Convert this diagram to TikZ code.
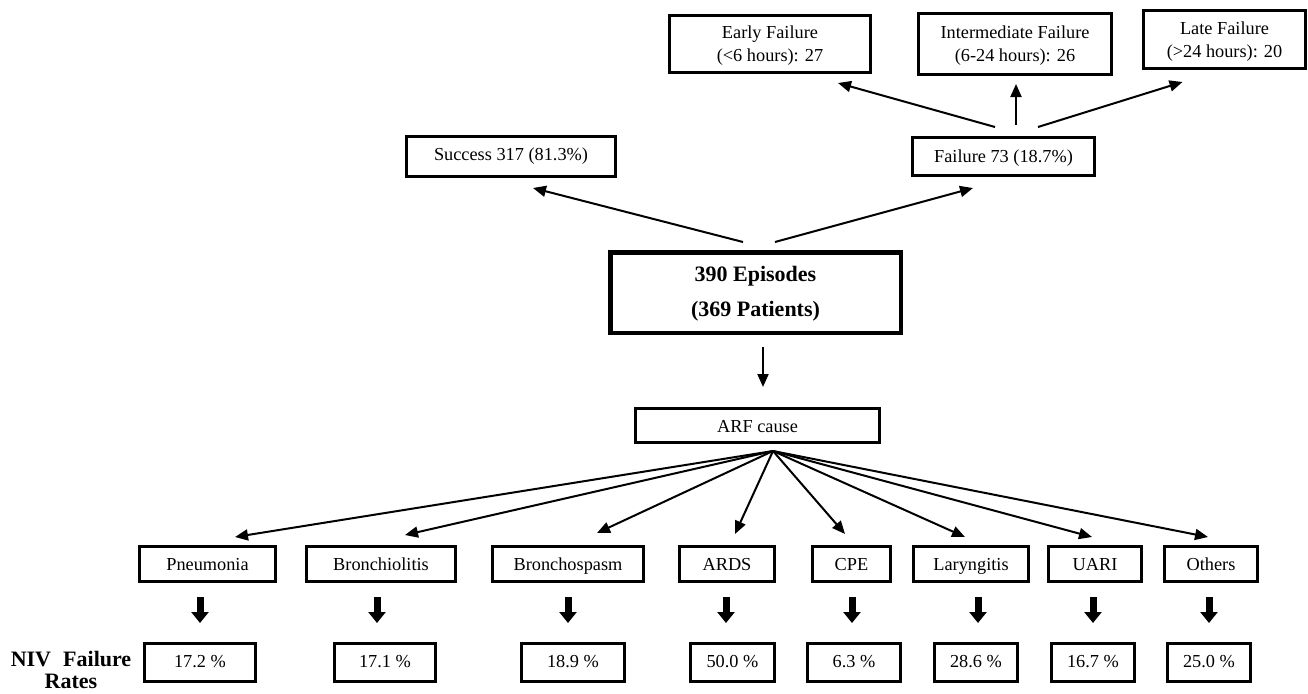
\documentclass[tikz,border=0pt]{standalone}
\usepackage{fontspec}
\setmainfont{Liberation Serif}
\usetikzlibrary{arrows.meta}
\begin{document}
\begin{tikzpicture}[x=1pt,y=-1pt,
  box/.style={draw, line width=3pt, inner sep=0pt, align=center, font=\fontsize{18.3}{23}\selectfont},
  single/.style={text height=12.5pt, text depth=0pt},
  double/.style={text height=40pt, text depth=4pt},
  bigbox/.style={draw, line width=4.5pt, inner sep=0pt, align=center, font=\fontsize{22}{35}\selectfont\bfseries, text height=53pt, text depth=5pt},
  thinarrow/.style={line width=2pt, -{Triangle[length=13pt,width=11pt]}},
  fatarrow/.style={line width=7pt, -{Triangle[length=11pt,width=17pt]}},
  lbl/.style={inner sep=0pt, align=center, font=\fontsize{22}{22}\selectfont\bfseries}
  ]
\useasboundingbox (0,0) rectangle (1308,693);

% top row
\node[box, double, minimum width=201, minimum height=57] (early) at (770,44) {Early Failure\\(<6 hours): 27};
\node[box, double, minimum width=193, minimum height=61] (inter) at (1015,44) {Intermediate Failure\\(6-24 hours): 26};
\node[box, double, minimum width=162, minimum height=58] (late) at (1224.5,39.5) {Late Failure\\(>24 hours): 20};

% second row
\node[box, single, text height=7pt, minimum width=209, minimum height=40] (suc) at (511,156.5) {Success 317 (81.3\%)};
\node[box, single, minimum width=182, minimum height=38] (fail) at (1003.5,156.5) {Failure 73 (18.7\%)};

% central
\node[bigbox, minimum width=290.5, minimum height=80.5] (ep) at (755.5,292.5) {390 Episodes\\(369 Patients)};
\node[box, single, text height=14pt, minimum width=244, minimum height=34] (arf) at (757.5,425.5) {ARF cause};

% causes
\node[box, single, minimum width=136, minimum height=35] (pn) at (207.5,564) {Pneumonia};
\node[box, single, minimum width=149, minimum height=35] (br) at (381,564) {Bronchiolitis};
\node[box, single, minimum width=151, minimum height=35] (bs) at (568,564) {Bronchospasm};
\node[box, single, minimum width=95, minimum height=35] (ards) at (727,564) {ARDS};
\node[box, single, minimum width=78, minimum height=35] (cpe) at (851.5,564) {CPE};
\node[box, single, minimum width=115, minimum height=35] (lar) at (971,564) {Laryngitis};
\node[box, single, minimum width=93, minimum height=35] (uari) at (1095,564) {UARI};
\node[box, single, minimum width=93, minimum height=35] (oth) at (1211,564) {Others};

% rates
\tikzset{rate/.style={box, single, text height=10pt, minimum height=38}}
\node[rate, minimum width=111] (r1) at (200,662.5) {17.2 \%};
\node[rate, minimum width=101] (r2) at (385,662.5) {17.1 \%};
\node[rate, minimum width=103] (r3) at (573,662.5) {18.9 \%};
\node[rate, minimum width=84] (r4) at (732.5,662.5) {50.0 \%};
\node[rate, minimum width=93] (r5) at (854,662.5) {6.3 \%};
\node[rate, minimum width=83] (r6) at (976,662.5) {28.6 \%};
\node[rate, minimum width=83] (r7) at (1093,662.5) {16.7 \%};
\node[rate, minimum width=83] (r8) at (1209,662.5) {25.0 \%};

\node[lbl] (niv) at (71,670) {NIV\hspace{0.55em}Failure\\Rates};

% arrows from failure
\draw[thinarrow] ([shift={(-8.5,-9)}]fail.north) -- ([shift={(68,9)}]early.south);
\draw[thinarrow] ([shift={(12.5,-11)}]fail.north) -- ([shift={(1,8)}]inter.south);
\draw[thinarrow] ([shift={(34.5,-9)}]fail.north) -- ([shift={(-42,12)}]late.south);

% arrows from episodes
\draw[thinarrow] ([shift={(-12.5,-8)}]ep.north) -- ([shift={(22,10)}]suc.south);
\draw[thinarrow] ([shift={(19.5,-8)}]ep.north) -- ([shift={(-30.5,11)}]fail.south);
\draw[thinarrow] ([shift={(7.5,12)}]ep.south) -- ([shift={(5.5,-20)}]arf.north);

% fan
\coordinate (fan) at ([shift={(15.5,7)}]arf.south);
\draw[thinarrow] (fan) -- ([shift={(27.5,-8)}]pn.north);
\draw[thinarrow] (fan) -- ([shift={(24,-10)}]br.north);
\draw[thinarrow] (fan) -- ([shift={(29,-12)}]bs.north);
\draw[thinarrow] (fan) -- ([shift={(8,-11)}]ards.north);
\draw[thinarrow] (fan) -- ([shift={(-6.5,-11)}]cpe.north);
\draw[thinarrow] (fan) -- ([shift={(-6,-8)}]lar.north);
\draw[thinarrow] (fan) -- ([shift={(-3,-8)}]uari.north);
\draw[thinarrow] (fan) -- ([shift={(-3,-8)}]oth.north);

% fat arrows
\draw[fatarrow] ([shift={(-7.5,14)}]pn.south) -- ([shift={(0,-19)}]r1.north);
\draw[fatarrow] ([shift={(-4,14)}]br.south) -- ([shift={(-8,-19)}]r2.north);
\draw[fatarrow] ([shift={(0,14)}]bs.south) -- ([shift={(-5,-19)}]r3.north);
\draw[fatarrow] ([shift={(-1,14)}]ards.south) -- ([shift={(-6.5,-19)}]r4.north);
\draw[fatarrow] ([shift={(0.5,14)}]cpe.south) -- ([shift={(-2,-19)}]r5.north);
\draw[fatarrow] ([shift={(7,14)}]lar.south) -- ([shift={(2,-19)}]r6.north);
\draw[fatarrow] ([shift={(-2,14)}]uari.south) -- ([shift={(0,-19)}]r7.north);
\draw[fatarrow] ([shift={(-2,14)}]oth.south) -- ([shift={(0,-19)}]r8.north);
\end{tikzpicture}
\end{document}
